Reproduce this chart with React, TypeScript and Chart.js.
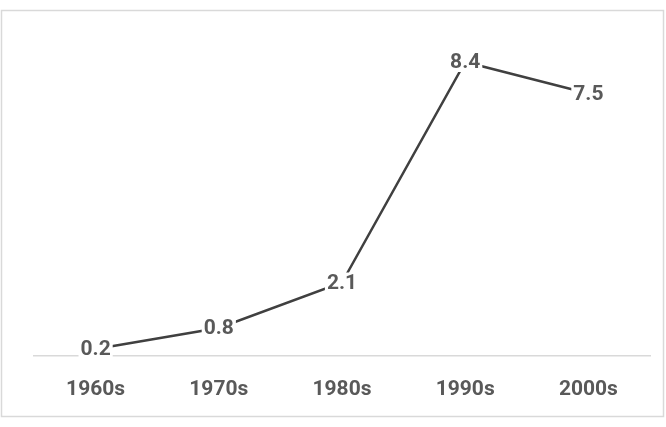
import React, { useEffect, useRef } from "react";
import { Chart, registerables } from "chart.js";

Chart.register(...registerables);

const categories = ["1960s", "1970s", "1980s", "1990s", "2000s"];
const values = [0.2, 0.8, 2.1, 8.4, 7.5];
const valueLabels = ["0.2", "0.8", "2.1", "8.4", "7.5"];

const FONT = "Roboto, 'Open Sans', sans-serif";

const framePlugin = {
  id: "frame",
  beforeDraw(chart: any) {
    const ctx = chart.ctx;
    ctx.save();
    ctx.fillStyle = "#ffffff";
    ctx.fillRect(0, 0, chart.width, chart.height);
    ctx.strokeStyle = "#d9d9d9";
    ctx.lineWidth = 1.5;
    ctx.strokeRect(1.5, 10.5, 662, 406);
    ctx.restore();
  },
};

const labelPlugin = {
  id: "valueLabels",
  afterDatasetsDraw(chart: any) {
    const ctx = chart.ctx;
    const meta = chart.getDatasetMeta(0);
    ctx.save();
    ctx.font = "bold 21px " + FONT;
    ctx.textAlign = "center";
    ctx.textBaseline = "middle";
    meta.data.forEach((pt: any, i: number) => {
      const txt = valueLabels[i];
      const w = ctx.measureText(txt).width;
      ctx.fillStyle = "#ffffff";
      ctx.fillRect(pt.x - w / 2 - 2, pt.y - 10, w + 4, 20);
      ctx.fillStyle = "#595959";
      ctx.fillText(txt, pt.x, pt.y + 1);
    });
    ctx.restore();
  },
};

export default function App() {
  const ref = useRef<HTMLCanvasElement>(null);
  useEffect(() => {
    if (!ref.current) return;
    const chart = new Chart(ref.current, {
      type: "line",
      data: {
        labels: categories,
        datasets: [
          {
            data: values,
            borderColor: "#404040",
            borderWidth: 2.5,
            pointRadius: 0,
            tension: 0,
          },
        ],
      },
      options: {
        responsive: false,
        animation: false,
        layout: { padding: { left: 34, right: 16, top: 41, bottom: 0 } },
        plugins: { legend: { display: false }, tooltip: { enabled: false } },
        scales: {
          x: {
            offset: true,
            grid: { display: false, drawTicks: false },
            border: { display: true, color: "#d9d9d9", width: 1.5 },
            ticks: {
              padding: 21,
              color: "#595959",
              font: { family: FONT, size: 21, weight: "bold" },
            },
            afterFit: (scale: any) => {
              scale.height = 71;
            },
          },
          y: { display: false, min: 0, max: 9 },
        },
      },
      plugins: [framePlugin, labelPlugin],
    });
    return () => chart.destroy();
  }, []);
  return (
    <div style={{ position: "fixed", left: 0, top: 0, width: 666, height: 427 }}>
      <canvas ref={ref} width={666} height={427} style={{ display: "block" }} />
    </div>
  );
}
